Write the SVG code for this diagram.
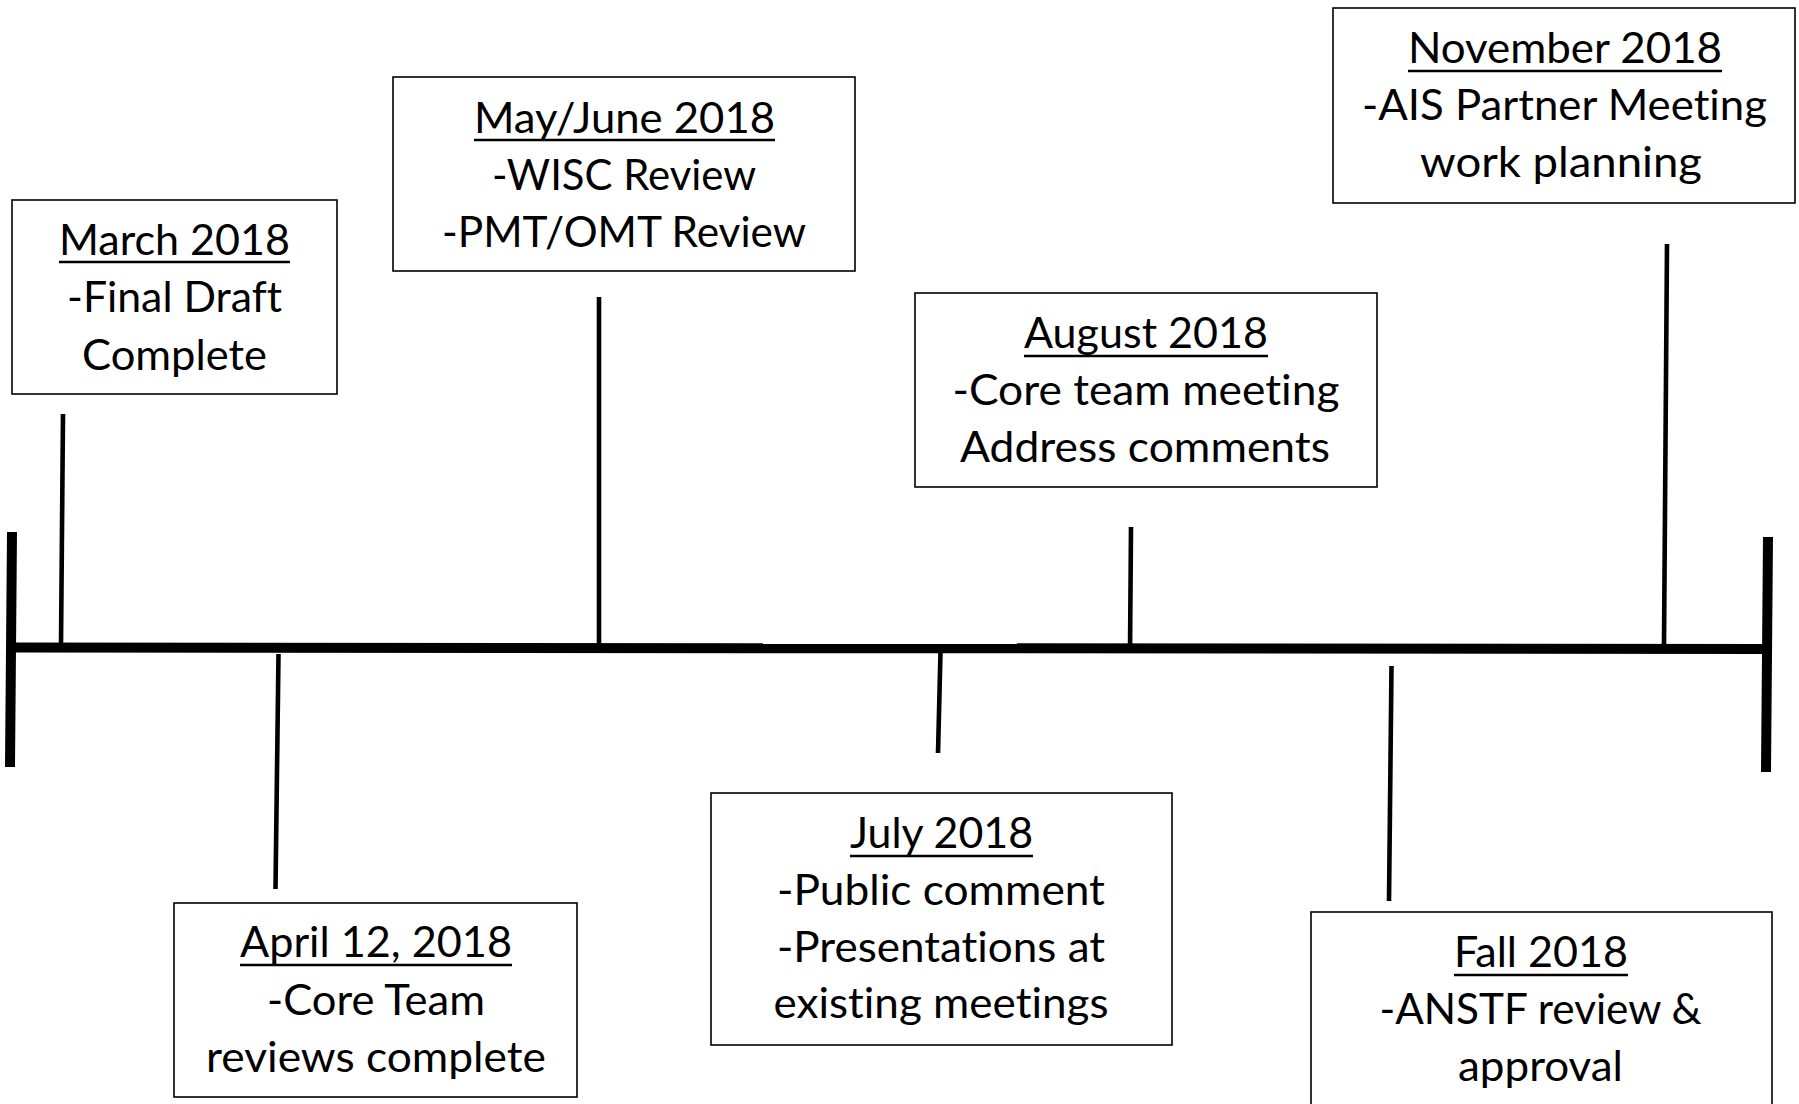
<svg xmlns="http://www.w3.org/2000/svg" width="1799" height="1104" viewBox="0 0 1799 1104">
<style>
.box{fill:#fff;stroke:#000;stroke-width:1.6}
.t{font-family:Lato,"Open Sans","Liberation Sans",sans-serif;font-size:42.5px;fill:#000;text-anchor:middle;font-variant-ligatures:none;font-feature-settings:"liga" 0,"clig" 0}
.ul{stroke:#000;stroke-width:2.6}
.tick{stroke:#000;stroke-width:4.6;fill:none}
.axis{stroke:#000;stroke-width:10;fill:none}
</style>
<rect width="1799" height="1104" fill="#fff"/>
<g id="connectors">
<line class="axis" x1="12" y1="647.5" x2="1766" y2="649"/>
<line class="axis" x1="12" y1="532" x2="10" y2="767"/>
<line class="axis" x1="1768" y1="537" x2="1766" y2="772"/>
<line class="tick" x1="63" y1="414" x2="61" y2="645"/>
<line class="tick" x1="278.5" y1="654" x2="275.5" y2="889"/>
<line class="tick" x1="599" y1="297" x2="599" y2="645"/>
<line class="tick" x1="940.5" y1="652" x2="938" y2="753"/>
<line class="tick" x1="1131" y1="527" x2="1130" y2="652"/>
<line class="tick" x1="1391.5" y1="666" x2="1389" y2="901"/>
<line class="tick" x1="1667" y1="244" x2="1664" y2="645"/>
</g>
<g id="march">
<rect class="box" x="12" y="200" width="325" height="194"/>
<text class="t" x="174.5" y="255" textLength="231" lengthAdjust="spacingAndGlyphs">March 2018</text>
<line class="ul" x1="59" y1="262" x2="290" y2="262"/>
<text class="t" x="174.5" y="312" textLength="215" lengthAdjust="spacingAndGlyphs">-Final Draft</text>
<text class="t" x="174.5" y="370" textLength="185" lengthAdjust="spacingAndGlyphs">Complete</text>
</g>
<g id="april">
<rect class="box" x="174" y="903" width="403" height="194"/>
<text class="t" x="376" y="957" textLength="272" lengthAdjust="spacingAndGlyphs">April 12, 2018</text>
<line class="ul" x1="240" y1="965" x2="512" y2="965"/>
<text class="t" x="376" y="1015" textLength="218" lengthAdjust="spacingAndGlyphs">-Core Team</text>
<text class="t" x="376" y="1072" textLength="340" lengthAdjust="spacingAndGlyphs">reviews complete</text>
</g>
<g id="mayjune">
<rect class="box" x="393" y="77" width="462" height="194"/>
<text class="t" x="624.5" y="133" textLength="301" lengthAdjust="spacingAndGlyphs">May/June 2018</text>
<line class="ul" x1="474" y1="140" x2="775" y2="140"/>
<text class="t" x="624" y="190" textLength="264" lengthAdjust="spacingAndGlyphs">-WISC Review</text>
<text class="t" x="624" y="247" textLength="364" lengthAdjust="spacingAndGlyphs">-PMT/OMT Review</text>
</g>
<g id="july">
<rect class="box" x="711" y="793" width="461" height="252"/>
<text class="t" x="941.5" y="848" textLength="183" lengthAdjust="spacingAndGlyphs">July 2018</text>
<line class="ul" x1="850" y1="856" x2="1033" y2="856"/>
<text class="t" x="941" y="905" textLength="328" lengthAdjust="spacingAndGlyphs">-Public comment</text>
<text class="t" x="941" y="962" textLength="328" lengthAdjust="spacingAndGlyphs">-Presentations at</text>
<text class="t" x="941" y="1018" textLength="335" lengthAdjust="spacingAndGlyphs">existing meetings</text>
</g>
<g id="august">
<rect class="box" x="915" y="293" width="462" height="194"/>
<text class="t" x="1146" y="348" textLength="244" lengthAdjust="spacingAndGlyphs">August 2018</text>
<line class="ul" x1="1024" y1="356" x2="1268" y2="356"/>
<text class="t" x="1146" y="405" textLength="387" lengthAdjust="spacingAndGlyphs">-Core team meeting</text>
<text class="t" x="1145" y="462" textLength="370" lengthAdjust="spacingAndGlyphs">Address comments</text>
</g>
<g id="fall">
<rect class="box" x="1311" y="912" width="461" height="200"/>
<text class="t" x="1541" y="967" textLength="174" lengthAdjust="spacingAndGlyphs">Fall 2018</text>
<line class="ul" x1="1454" y1="975" x2="1628" y2="975"/>
<text class="t" x="1540.5" y="1024" textLength="322" lengthAdjust="spacingAndGlyphs">-ANSTF review &amp;</text>
<text class="t" x="1540.5" y="1081" textLength="165" lengthAdjust="spacingAndGlyphs">approval</text>
</g>
<g id="november">
<rect class="box" x="1333" y="8" width="462" height="195"/>
<text class="t" x="1565" y="63" textLength="314" lengthAdjust="spacingAndGlyphs">November 2018</text>
<line class="ul" x1="1408" y1="71" x2="1722" y2="71"/>
<text class="t" x="1564.5" y="120" textLength="405" lengthAdjust="spacingAndGlyphs">-AIS Partner Meeting</text>
<text class="t" x="1561" y="177" textLength="282" lengthAdjust="spacingAndGlyphs">work planning</text>
</g>
</svg>
